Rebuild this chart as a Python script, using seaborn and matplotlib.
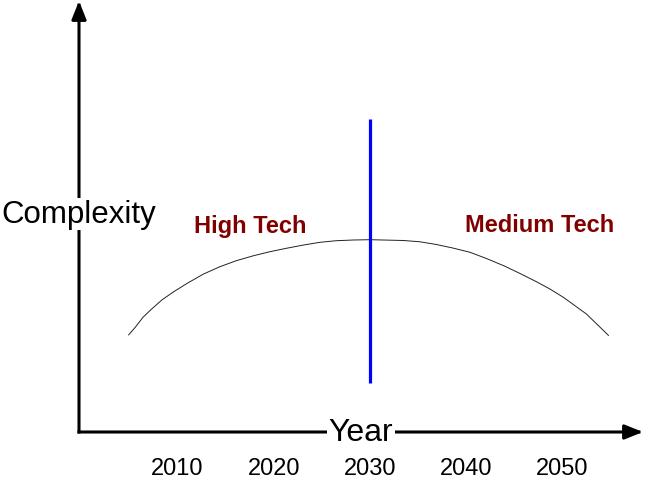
import matplotlib
matplotlib.use("Agg")
import matplotlib.pyplot as plt
import seaborn as sns
import pandas as pd

# curve (year, complexity in arbitrary units)
years = [2004.9, 2005.6, 2006.4, 2007.3, 2008.4, 2009.6, 2011.0, 2012.7,
         2014.4, 2016.1, 2017.9, 2019.6, 2021.3, 2023.1, 2024.8, 2026.5,
         2028.3, 2030.0, 2033.5, 2035.2, 2036.9, 2038.6, 2040.4, 2042.1,
         2043.9, 2045.6, 2047.3, 2048.7, 2050.1, 2052.5, 2054.8]
complexity = [97, 104.7, 114.7, 123, 132.3, 140.3, 148.7, 158,
              165.3, 171.3, 176.3, 180.3, 183.7, 187, 189.7, 191.3,
              192, 192.3, 191.5, 190.2, 187.5, 184, 179.7, 173.5,
              166.3, 158.5, 150.3, 143, 134.7, 118, 96.5]

tick_years = [2010, 2020, 2030, 2040, 2050]
split_year = 2030
split_span = [49, 313]
region_labels = ["High Tech", "Medium Tech"]
region_years = [2017.6, 2047.6]
region_level = 207

sns.set_style("white")
plt.rcParams['font.family'] = ['Liberation Sans', 'DejaVu Sans']

fig = plt.figure(figsize=(6.45, 4.85), dpi=100)
ax = fig.add_axes([79/645, 52/485, 564/645, 431/485])

df = pd.DataFrame({"Year": years, "Complexity": complexity})
sns.lineplot(data=df, x="Year", y="Complexity", ax=ax, color="#222222", lw=0.7)

# divider between the two regions
ax.vlines(split_year, split_span[0], split_span[1], color="#0000ff", lw=2.3)

ax.set_xlim(1999.75, 2058.38)
ax.set_ylim(0, 431)

for s in ax.spines.values():
    s.set_visible(False)
ax.set_xlabel("")
ax.set_ylabel("")
ax.set_yticks([])
ax.set_xticks(tick_years)
ax.set_xticklabels([str(y) for y in tick_years])
ax.tick_params(axis='x', length=0, pad=18, labelsize=17, labelcolor='black')

# axis arrows
arrow = dict(arrowstyle='-|>,head_length=0.55,head_width=0.22', lw=2.2,
             color='black', mutation_scale=20, shrinkA=0, shrinkB=0,
             capstyle='projecting')
ax.annotate("", xy=(0, 1), xytext=(0, 0), xycoords='axes fraction',
            arrowprops=arrow, annotation_clip=False)
ax.annotate("", xy=(1, 0), xytext=(0, 0), xycoords='axes fraction',
            arrowprops=arrow, annotation_clip=False)

box = dict(facecolor='white', edgecolor='none', pad=1)
ax.text(0.5, 0, "Year", transform=ax.transAxes, ha='center', va='center',
        fontsize=23, color='black', bbox=box, zorder=5)
ax.text(0, 218, "Complexity", transform=ax.get_yaxis_transform(),
        ha='center', va='center', fontsize=22.5, color='black', bbox=box,
        zorder=5, clip_on=False)

for lab, yr in zip(region_labels, region_years):
    ax.text(yr, region_level, lab, ha='center', va='center', fontsize=17,
            fontweight='bold', color='#800000')

fig.savefig("out.png", dpi=100)
